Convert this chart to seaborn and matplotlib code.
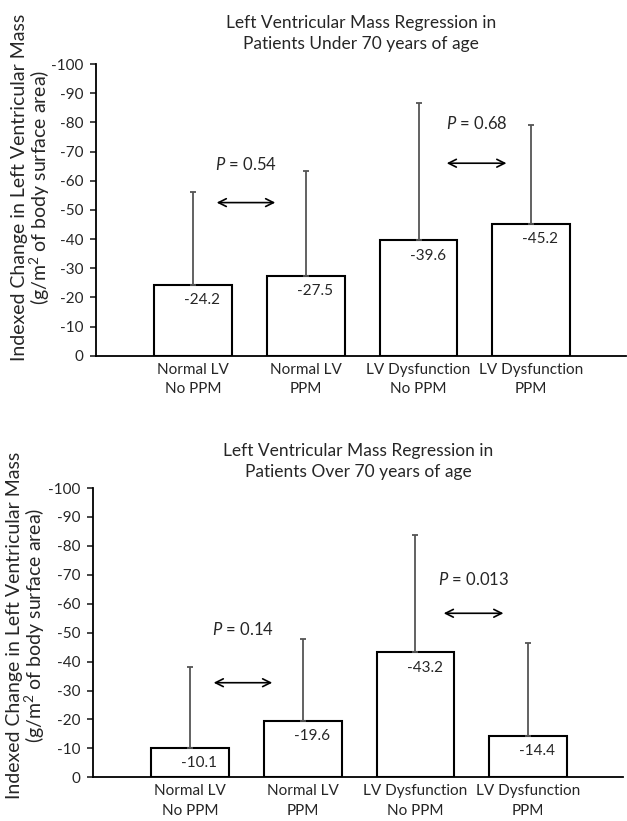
import numpy as np
import pandas as pd
import matplotlib
matplotlib.use("Agg")
import matplotlib.pyplot as plt
import seaborn as sns

# data

groups = ["Normal LV\nNo PPM", "Normal LV\nPPM", "LV Dysfunction\nNo PPM", "LV Dysfunction\nPPM"]

under70_mean = [-24.2, -27.5, -39.6, -45.2]
under70_sd = [31.8, 36.0, 47.0, 34.0]

over70_mean = [-10.1, -19.6, -43.2, -14.4]
over70_sd = [28.1, 28.3, 40.4, 32.0]

yticks = [0, -10, -20, -30, -40, -50, -60, -70, -80, -90, -100]
ytick_labels = ["0", "-10", "-20", "-30", "-40", "-50", "-60", "-70", "-80", "-90", "-100"]

under70_p = ["0.54", "0.68"]
over70_p = ["0.14", "0.013"]

sns.set_style("white")
plt.rcParams["font.family"] = ["Lato", "DejaVu Sans"]
plt.rcParams["mathtext.fontset"] = "custom"
plt.rcParams["mathtext.rm"] = "Lato"
plt.rcParams["mathtext.it"] = "Lato:italic"

fig = plt.figure(figsize=(6.27, 8.21), dpi=100)
ax1 = fig.add_axes([0.1531, 0.5667, 0.8453, 0.3553])
ax2 = fig.add_axes([0.1483, 0.0532, 0.8453, 0.3524])


def draw_panel(ax, means, sds, pvals, title, ptext_y, parrow_y, tpad, label_xy):
    df = pd.DataFrame({"group": groups, "change": means})
    sns.barplot(data=df, x="group", y="change", ax=ax, color="white",
                edgecolor="black", linewidth=1.5, width=0.69, errorbar=None)
    x = np.arange(len(groups))
    # one sided error bars (towards more regression)
    ax.errorbar(x, means, yerr=[sds, np.zeros(len(sds))], fmt="none",
                ecolor="#555555", elinewidth=1.3, capsize=2.5, capthick=1.3)
    for xi, m in zip(x, means):
        ax.annotate(f"{m:.1f}", (xi + 0.08, m), xytext=(0, -6), textcoords="offset points",
                    ha="center", va="top", fontsize=11)
    # p value arrows
    for (x0, x1), p, ty, ay in zip([(0.21, 0.73), (2.25, 2.78)], pvals, ptext_y, parrow_y):
        ax.annotate("", xy=(x0, ay), xytext=(x1, ay),
                    arrowprops=dict(arrowstyle="<->", color="black", lw=1.2,
                                    shrinkA=0, shrinkB=0, mutation_scale=14))
        ax.text((x0 + x1) / 2, ty, "$\\mathit{P}$ = " + p, ha="center", va="center", fontsize=12)

    ax.set_ylim(0, -100)
    ax.set_xlim(-0.86, 3.84)
    ax.set_yticks(yticks)
    ax.set_yticklabels(ytick_labels, fontsize=11)
    ax.tick_params(axis="y", direction="out", length=4, width=1.2, left=True, pad=5)
    ax.tick_params(axis="x", length=0, labelsize=11, pad=5)
    for lab in ax.get_xticklabels():
        lab.set_linespacing(1.5)
    ax.set_xlabel("")
    ax.set_ylabel("Indexed Change in Left Ventricular Mass\n(g/m$^2$ of body surface area)",
                  fontsize=14, linespacing=1.0)
    ax.yaxis.set_label_coords(*label_xy)
    ax.set_title(title, fontsize=12.5, pad=tpad, linespacing=1.4)
    sns.despine(ax=ax)
    for s in ["left", "bottom"]:
        ax.spines[s].set_color("black")
        ax.spines[s].set_linewidth(1.3)


draw_panel(ax1, under70_mean, under70_sd, under70_p,
           "Left Ventricular Mass Regression in\nPatients Under 70 years of age",
           [-65.5, -79.5], [-52.5, -66], 11, (-0.083, 0.577))
draw_panel(ax2, over70_mean, over70_sd, over70_p,
           "Left Ventricular Mass Regression in\nPatients Over 70 years of age",
           [-51, -68.3], [-32.7, -56.7], 8, (-0.087, 0.526))

fig.savefig("out.png", dpi=100)
